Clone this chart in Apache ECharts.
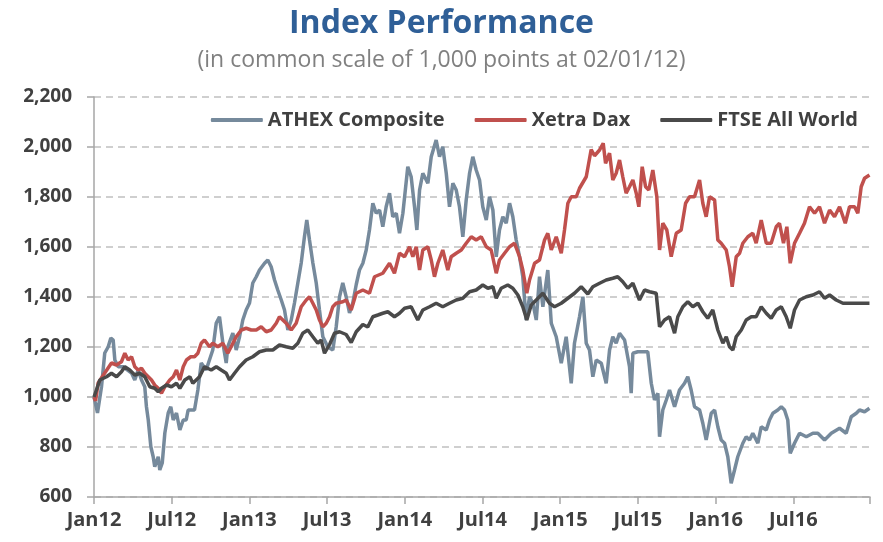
<!DOCTYPE html>
<html>
<head>
<meta charset="utf-8">
<script src="https://cdn.jsdelivr.net/npm/echarts@6/dist/echarts.min.js"></script>
<style>
  html, body { margin: 0; padding: 0; background: #fff; }
  #chart { width: 883px; height: 542px; }
</style>
</head>
<body>
<div id="chart"></div>
<script>
// x values are months since 1 Jan 2012
const tickLabels = ['Jan12', 'Jul12', 'Jan13', 'Jul13', 'Jan14', 'Jul14', 'Jan15', 'Jul15', 'Jan16', 'Jul16'];

const athexMonths = [0.00, 0.27, 0.58, 0.83, 1.10, 1.30, 1.48, 1.61, 1.87, 2.25, 2.59, 2.90, 3.15, 3.41, 3.67, 3.92, 4.05, 4.19, 4.39, 4.57, 4.69, 4.96, 5.08, 5.27, 5.47, 5.73, 5.93, 6.12, 6.37, 6.63, 6.89, 7.12, 7.27, 7.76, 8.02, 8.28, 8.66, 9.17, 9.44, 9.69, 9.95, 10.21, 10.33, 10.72, 10.98, 11.24, 11.49, 11.75, 12.01, 12.26, 12.53, 12.78, 13.17, 13.42, 13.68, 13.94, 14.19, 14.46, 14.71, 14.97, 15.23, 15.48, 15.74, 16.00, 16.25, 16.43, 16.64, 16.90, 17.16, 17.41, 17.67, 18.05, 18.44, 18.70, 18.96, 19.21, 19.47, 19.73, 19.98, 20.25, 20.50, 20.76, 21.02, 21.27, 21.53, 21.79, 22.05, 22.30, 22.56, 22.82, 23.07, 23.34, 23.59, 23.85, 24.23, 24.49, 24.75, 24.93, 25.14, 25.39, 25.78, 26.04, 26.42, 26.68, 26.93, 27.20, 27.45, 27.71, 27.97, 28.22, 28.48, 28.74, 29.00, 29.25, 29.51, 29.77, 30.02, 30.29, 30.54, 30.80, 31.06, 31.31, 31.57, 31.83, 32.09, 32.34, 32.60, 32.86, 33.11, 33.37, 33.63, 33.89, 34.15, 34.40, 34.66, 35.04, 35.31, 35.69, 36.08, 36.46, 36.85, 37.10, 37.49, 37.75, 38.01, 38.26, 38.52, 38.78, 39.17, 39.55, 39.81, 40.06, 40.32, 40.58, 40.97, 41.35, 41.48, 41.61, 41.99, 42.76, 43.03, 43.28, 43.54, 43.67, 43.92, 44.19, 44.44, 44.83, 45.21, 45.60, 45.85, 46.11, 46.37, 46.76, 47.01, 47.27, 47.66, 47.92, 48.17, 48.43, 48.69, 48.94, 49.20, 49.46, 49.71, 50.10, 50.36, 50.62, 50.87, 51.26, 51.52, 51.91, 52.16, 52.42, 52.80, 53.07, 53.32, 53.57, 53.76, 54.09, 54.48, 55.00, 55.51, 55.89, 56.41, 56.93, 57.57, 58.08, 58.47, 58.86, 59.11, 59.50, 59.88];
const athexValues = [1000, 936, 1041, 1176, 1201, 1236, 1228, 1148, 1121, 1121, 1108, 1096, 1068, 1108, 1068, 1041, 961, 908, 801, 761, 721, 761, 708, 736, 856, 936, 961, 908, 936, 868, 908, 908, 948, 948, 1028, 1136, 1108, 1188, 1296, 1321, 1216, 1136, 1201, 1256, 1188, 1241, 1308, 1348, 1376, 1456, 1481, 1508, 1535, 1548, 1521, 1468, 1428, 1388, 1348, 1268, 1308, 1376, 1456, 1536, 1641, 1708, 1628, 1536, 1456, 1348, 1241, 1201, 1188, 1280, 1401, 1456, 1401, 1336, 1376, 1450, 1508, 1535, 1588, 1668, 1775, 1735, 1748, 1681, 1761, 1815, 1721, 1735, 1655, 1735, 1921, 1881, 1761, 1668, 1828, 1895, 1855, 1961, 2028, 1961, 2001, 1895, 1761, 1855, 1828, 1761, 1641, 1788, 1895, 1961, 1908, 1868, 1761, 1708, 1801, 1748, 1561, 1668, 1721, 1695, 1775, 1721, 1628, 1561, 1481, 1308, 1401, 1375, 1308, 1481, 1361, 1508, 1295, 1241, 1135, 1241, 1055, 1215, 1321, 1401, 1215, 1188, 1081, 1148, 1135, 1055, 1188, 1241, 1215, 1255, 1228, 1121, 1015, 1175, 1181, 1181, 1055, 988, 1015, 841, 948, 988, 1028, 961, 1028, 1055, 1081, 1028, 961, 948, 895, 828, 935, 948, 881, 828, 815, 761, 655, 708, 761, 815, 841, 828, 855, 815, 881, 868, 908, 935, 948, 961, 948, 908, 775, 815, 855, 841, 855, 855, 828, 855, 875, 855, 921, 935, 948, 941, 955];

const xetraMonths = [0.00, 0.12, 0.32, 0.83, 1.35, 1.74, 2.12, 2.38, 2.64, 2.90, 3.15, 3.41, 3.67, 3.92, 4.19, 4.44, 4.69, 4.96, 5.21, 5.47, 5.85, 6.12, 6.37, 6.63, 6.89, 7.14, 7.47, 7.76, 8.02, 8.28, 8.53, 8.92, 9.17, 9.56, 9.95, 10.33, 10.59, 10.98, 11.37, 11.75, 12.14, 12.53, 12.91, 13.30, 13.68, 14.07, 14.32, 14.58, 14.84, 15.23, 15.61, 16.00, 16.39, 16.64, 16.90, 17.16, 17.41, 17.67, 17.93, 18.19, 18.44, 18.70, 19.21, 19.47, 19.86, 20.25, 20.76, 21.27, 21.66, 22.30, 22.82, 23.20, 23.59, 23.98, 24.36, 24.62, 24.88, 25.14, 25.39, 25.78, 26.04, 26.29, 26.55, 26.93, 27.32, 27.58, 27.97, 28.36, 28.74, 29.13, 29.51, 29.90, 30.29, 30.67, 31.06, 31.31, 31.70, 32.09, 32.47, 32.86, 33.11, 33.42, 33.63, 34.02, 34.40, 34.79, 35.04, 35.31, 35.69, 36.08, 36.33, 36.59, 36.85, 37.24, 37.49, 38.01, 38.39, 38.65, 39.04, 39.32, 39.50, 39.81, 40.06, 40.32, 40.58, 40.83, 41.09, 41.35, 41.61, 41.87, 42.07, 42.33, 42.59, 42.84, 43.15, 43.46, 43.67, 43.92, 44.23, 44.57, 44.96, 45.34, 45.68, 45.99, 46.37, 46.76, 47.01, 47.27, 47.53, 47.92, 48.17, 48.43, 48.82, 49.07, 49.28, 49.59, 49.85, 50.10, 50.49, 50.87, 51.13, 51.52, 51.91, 52.29, 52.68, 52.93, 53.24, 53.50, 53.76, 54.09, 54.48, 54.86, 55.25, 55.64, 56.02, 56.41, 56.80, 57.18, 57.57, 58.01, 58.34, 58.73, 58.98, 59.24, 59.50, 59.88];
const xetraValues = [1000, 985, 1056, 1096, 1136, 1128, 1141, 1175, 1148, 1161, 1121, 1108, 1115, 1095, 1081, 1068, 1048, 1035, 1015, 1041, 1068, 1081, 1108, 1068, 1121, 1148, 1161, 1161, 1175, 1215, 1228, 1201, 1215, 1201, 1215, 1175, 1201, 1241, 1268, 1275, 1268, 1268, 1281, 1261, 1268, 1295, 1321, 1308, 1295, 1268, 1295, 1361, 1388, 1401, 1375, 1348, 1308, 1281, 1295, 1321, 1361, 1375, 1381, 1388, 1348, 1415, 1428, 1415, 1481, 1495, 1535, 1495, 1575, 1561, 1601, 1561, 1601, 1508, 1588, 1601, 1548, 1481, 1535, 1588, 1508, 1561, 1575, 1588, 1615, 1641, 1628, 1641, 1601, 1588, 1495, 1548, 1575, 1601, 1615, 1561, 1508, 1415, 1468, 1535, 1548, 1628, 1655, 1588, 1641, 1575, 1668, 1775, 1801, 1801, 1835, 1881, 1990, 1965, 1988, 2015, 1935, 1975, 1868, 1895, 1948, 1881, 1815, 1841, 1868, 1815, 1761, 1921, 1841, 1828, 1908, 1801, 1588, 1695, 1668, 1561, 1655, 1668, 1775, 1801, 1801, 1868, 1775, 1721, 1801, 1788, 1628, 1615, 1588, 1521, 1441, 1561, 1575, 1615, 1641, 1655, 1615, 1708, 1615, 1615, 1681, 1695, 1615, 1681, 1535, 1615, 1655, 1695, 1761, 1735, 1761, 1695, 1748, 1721, 1761, 1695, 1761, 1761, 1735, 1841, 1875, 1888];

const ftseMonths = [0.00, 0.45, 0.97, 1.35, 1.74, 2.12, 2.38, 2.76, 3.15, 3.54, 3.92, 4.31, 4.69, 4.96, 5.21, 5.60, 5.98, 6.37, 6.63, 7.01, 7.40, 7.63, 8.15, 8.53, 9.05, 9.44, 9.82, 10.21, 10.46, 10.85, 11.24, 11.75, 12.26, 12.78, 13.30, 13.81, 14.32, 14.84, 15.35, 15.74, 16.12, 16.51, 16.90, 17.28, 17.54, 17.80, 18.19, 18.57, 18.96, 19.47, 19.86, 20.25, 20.76, 21.14, 21.53, 21.92, 22.30, 22.69, 23.20, 23.59, 23.98, 24.49, 25.00, 25.39, 25.91, 26.42, 26.93, 27.45, 27.97, 28.48, 29.00, 29.51, 30.02, 30.41, 30.80, 31.06, 31.44, 31.95, 32.34, 32.73, 33.11, 33.42, 33.76, 34.15, 34.66, 35.17, 35.56, 36.08, 36.59, 37.10, 37.62, 38.13, 38.52, 39.04, 39.55, 40.06, 40.44, 40.83, 41.22, 41.61, 42.12, 42.51, 42.90, 43.41, 43.67, 44.05, 44.44, 44.83, 45.08, 45.47, 45.85, 46.24, 46.63, 47.01, 47.39, 47.78, 48.17, 48.56, 48.82, 49.07, 49.33, 49.59, 49.98, 50.36, 50.75, 51.13, 51.52, 51.91, 52.29, 52.68, 53.07, 53.45, 53.76, 54.09, 54.48, 55.00, 55.51, 56.02, 56.41, 56.80, 57.31, 57.83, 59.88];
const ftseValues = [1000, 1068, 1081, 1095, 1081, 1101, 1121, 1108, 1088, 1095, 1081, 1041, 1035, 1021, 1035, 1048, 1041, 1055, 1035, 1068, 1081, 1055, 1081, 1121, 1108, 1121, 1108, 1095, 1068, 1095, 1121, 1148, 1161, 1181, 1188, 1188, 1208, 1201, 1195, 1215, 1255, 1268, 1241, 1215, 1228, 1175, 1210, 1255, 1261, 1250, 1218, 1261, 1290, 1280, 1321, 1328, 1335, 1341, 1321, 1335, 1355, 1361, 1308, 1348, 1361, 1375, 1361, 1375, 1388, 1395, 1421, 1428, 1448, 1435, 1441, 1395, 1435, 1448, 1435, 1408, 1361, 1308, 1368, 1388, 1415, 1375, 1361, 1375, 1395, 1415, 1441, 1412, 1441, 1455, 1468, 1475, 1481, 1461, 1435, 1455, 1388, 1428, 1421, 1415, 1281, 1308, 1321, 1255, 1321, 1361, 1381, 1361, 1375, 1341, 1315, 1348, 1268, 1215, 1241, 1201, 1188, 1241, 1268, 1308, 1321, 1321, 1361, 1335, 1315, 1348, 1361, 1321, 1275, 1348, 1388, 1401, 1408, 1421, 1395, 1408, 1388, 1375, 1375];

function pairs(xs, ys) {
  return xs.map((x, i) => [x, ys[i]]);
}

const font = 'Open Sans';
const labelColor = '#404040';

const myChart = echarts.init(document.getElementById('chart'), null, { renderer: 'canvas' });

const option = {
  animation: false,
  textStyle: { fontFamily: font },
  title: {
    text: 'Index Performance',
    subtext: '(in common scale of 1,000 points at 02/01/12)',
    left: 'center',
    top: 3,
    itemGap: 9,
    textStyle: { color: '#2F5F97', fontSize: 32, fontWeight: 'bold', fontFamily: font },
    subtextStyle: { color: '#808080', fontSize: 23, fontFamily: font }
  },
  legend: {
    right: 20,
    top: 105,
    itemGap: 30,
    itemWidth: 52,
    itemHeight: 4,
    icon: 'roundRect',
    textStyle: { color: labelColor, fontSize: 20, fontWeight: 'bold', fontFamily: font },
    data: ['ATHEX Composite', 'Xetra Dax', 'FTSE All World']
  },
  grid: {
    left: 94,
    top: 97,
    width: 776,
    height: 400,
    containLabel: false
  },
  xAxis: {
    type: 'value',
    min: 0,
    max: 59.92,
    interval: 6,
    axisLine: { show: true, lineStyle: { color: '#a6a6a6', width: 1.5 } },
    axisTick: { show: true, length: 7, lineStyle: { color: '#a6a6a6', width: 1.5 } },
    splitLine: { show: false },
    axisLabel: {
      color: labelColor,
      fontSize: 20,
      fontWeight: 'bold',
      fontFamily: font,
      margin: 13,
      formatter: v => tickLabels[Math.round(v / 6)] || ''
    }
  },
  yAxis: {
    type: 'value',
    min: 600,
    max: 2200,
    interval: 200,
    axisLine: { show: true, lineStyle: { color: '#a6a6a6', width: 1.5 } },
    axisTick: { show: true, length: 7, lineStyle: { color: '#a6a6a6', width: 1.5 } },
    splitLine: { show: true, lineStyle: { color: '#c0c0c0', width: 1.5, type: [7, 5] } },
    axisLabel: {
      color: labelColor,
      fontSize: 19,
      fontWeight: 'bold',
      fontFamily: font,
      margin: 22,
      formatter: v => v.toLocaleString('en-US')
    }
  },
  series: [
    {
      name: 'ATHEX Composite',
      type: 'line',
      showSymbol: false,
      color: '#768A9C',
      lineStyle: { width: 3.5, color: '#768A9C' },
      data: pairs(athexMonths, athexValues)
    },
    {
      name: 'Xetra Dax',
      type: 'line',
      showSymbol: false,
      color: '#C0504D',
      lineStyle: { width: 3.5, color: '#C0504D' },
      data: pairs(xetraMonths, xetraValues)
    },
    {
      name: 'FTSE All World',
      type: 'line',
      showSymbol: false,
      color: '#4A4A4A',
      lineStyle: { width: 3.5, color: '#4A4A4A' },
      data: pairs(ftseMonths, ftseValues)
    }
  ]
};

myChart.setOption(option, true);

window.addEventListener('resize', () => {
  myChart.resize();
});
</script>
</body>
</html>
